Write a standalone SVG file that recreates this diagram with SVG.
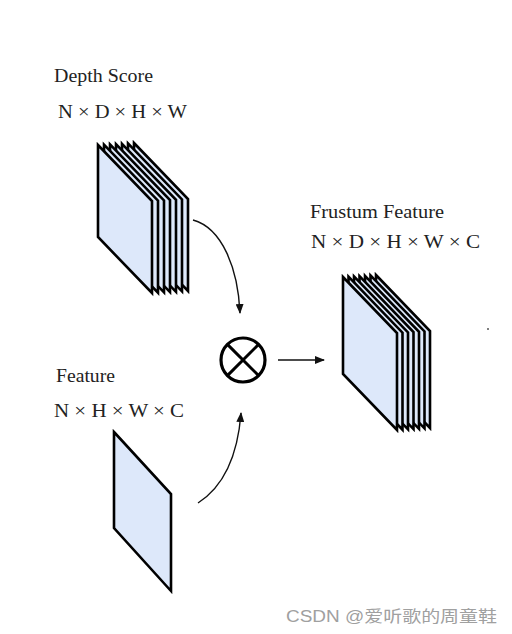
<svg xmlns="http://www.w3.org/2000/svg" width="512" height="634" viewBox="0 0 512 634">
<style>
.lbl{font-family:"Liberation Serif","DejaVu Serif",serif;font-size:18px;fill:#222}
.sheet{fill:#dde8fa;stroke:#000;stroke-width:2.6;stroke-linejoin:miter}
.conn{fill:none;stroke:#111;stroke-width:1.4}
.wm{font-family:"Liberation Sans","Noto Sans CJK SC",sans-serif;font-size:16px;fill:#a0a0a0}
</style>
<defs>
<marker id="ah" markerWidth="10" markerHeight="8" refX="9" refY="4" orient="auto" markerUnits="userSpaceOnUse">
<path d="M0,0 L10,4 L0,8 Z" fill="#111"/>
</marker>
<polygon id="dsheet" points="98,145 152,201 152,293 98,237"/>
<polygon id="fsheet" points="343,277 397,333 397,430 343,374"/>
</defs>
<rect width="512" height="634" fill="#fff"/>

<g id="depth-score">
<text class="lbl" x="54" y="82" textLength="99" lengthAdjust="spacingAndGlyphs">Depth Score</text>
<text class="lbl" x="58" y="118" textLength="129" lengthAdjust="spacingAndGlyphs">N × D × H × W</text>
<use href="#dsheet" class="sheet" transform="translate(36,-2)"/>
<use href="#dsheet" class="sheet" transform="translate(30,-1.6)"/>
<use href="#dsheet" class="sheet" transform="translate(24,-1.2)"/>
<use href="#dsheet" class="sheet" transform="translate(18,-0.9)"/>
<use href="#dsheet" class="sheet" transform="translate(12,-0.6)"/>
<use href="#dsheet" class="sheet" transform="translate(6,-0.3)"/>
<use href="#dsheet" class="sheet"/>
</g>

<g id="feature">
<text class="lbl" x="56" y="382" textLength="59" lengthAdjust="spacingAndGlyphs">Feature</text>
<text class="lbl" x="54" y="417" textLength="130" lengthAdjust="spacingAndGlyphs">N × H × W × C</text>
<polygon class="sheet" points="114,432 171,494 171,591 114,528"/>
</g>

<g id="multiply">
<circle cx="243" cy="360" r="22" fill="none" stroke="#000" stroke-width="3.2"/>
<line x1="227.4" y1="344.4" x2="258.6" y2="375.6" stroke="#000" stroke-width="3"/>
<line x1="258.6" y1="344.4" x2="227.4" y2="375.6" stroke="#000" stroke-width="3"/>
</g>

<g id="frustum-feature">
<text class="lbl" x="310" y="218" textLength="134" lengthAdjust="spacingAndGlyphs">Frustum Feature</text>
<text class="lbl" x="311" y="248" textLength="169" lengthAdjust="spacingAndGlyphs">N × D × H × W × C</text>
<use href="#fsheet" class="sheet" transform="translate(33,-2)"/>
<use href="#fsheet" class="sheet" transform="translate(27.5,-1.6)"/>
<use href="#fsheet" class="sheet" transform="translate(22,-1.2)"/>
<use href="#fsheet" class="sheet" transform="translate(16.5,-0.9)"/>
<use href="#fsheet" class="sheet" transform="translate(11,-0.6)"/>
<use href="#fsheet" class="sheet" transform="translate(5.5,-0.3)"/>
<use href="#fsheet" class="sheet"/>
</g>

<g id="connectors">
<path class="conn" d="M193,220 C222,228 238,268 240,313" marker-end="url(#ah)"/>
<path class="conn" d="M198,503 C226,485 238,452 241,413" marker-end="url(#ah)"/>
<path class="conn" d="M278,360 L324,360" marker-end="url(#ah)"/>
</g>

<circle cx="488" cy="329" r="1" fill="#555"/>
<text class="wm" x="286" y="622" textLength="211" lengthAdjust="spacingAndGlyphs">CSDN @爱听歌的周童鞋</text>
</svg>
